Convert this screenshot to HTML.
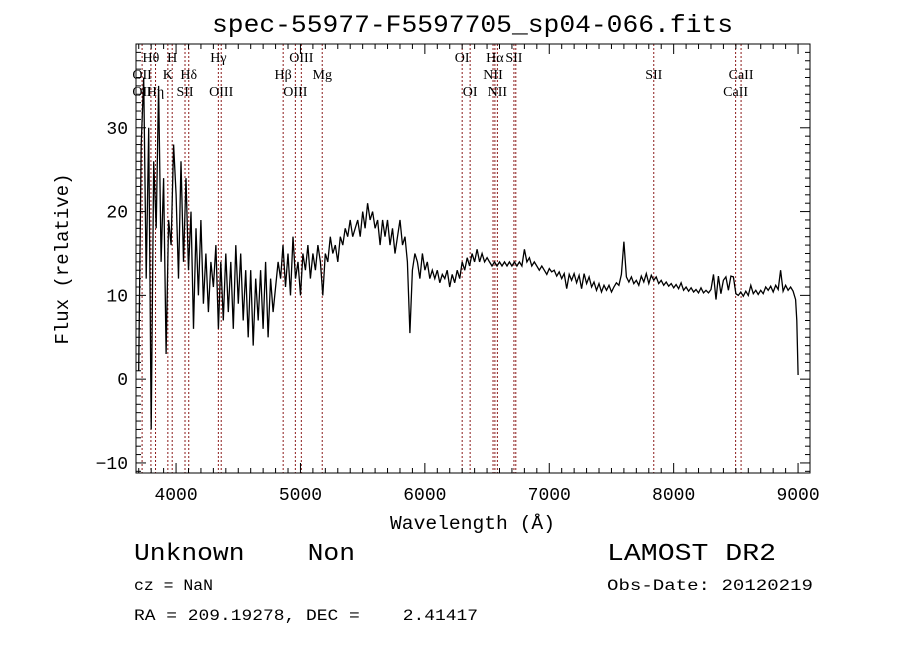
<!DOCTYPE html>
<html><head><meta charset="utf-8">
<style>
html,body{margin:0;padding:0;background:#fff;}
svg{display:block;font-family:"Liberation Mono",monospace;}
text{white-space:pre;}
</style></head>
<body>
<svg id="chart" width="900" height="649" viewBox="0 0 900 649" xmlns="http://www.w3.org/2000/svg" xml:space="preserve">
<rect x="0" y="0" width="900" height="649" fill="#fff"/>
<text x="212" y="32" font-size="25" textLength="521" lengthAdjust="spacingAndGlyphs">spec-55977-F5597705_sp04-066.fits</text>
<g id="lines"></g>
<g id="spec"></g>
<g id="axes"></g>
<text x="390" y="529" font-size="19" textLength="165" lengthAdjust="spacingAndGlyphs">Wavelength (Å)</text>
<text transform="translate(68,259) rotate(-90)" font-size="19" text-anchor="middle">Flux (relative)</text>
<text x="134" y="560" font-size="24" textLength="221" lengthAdjust="spacingAndGlyphs">Unknown    Non</text>
<text x="134" y="590" font-size="16" textLength="79" lengthAdjust="spacingAndGlyphs">cz = NaN</text>
<text x="134" y="620" font-size="16" textLength="344" lengthAdjust="spacingAndGlyphs">RA = 209.19278, DEC =    2.41417</text>
<text x="607" y="560" font-size="24" textLength="169" lengthAdjust="spacingAndGlyphs">LAMOST DR2</text>
<text x="607" y="590" font-size="16" textLength="206" lengthAdjust="spacingAndGlyphs">Obs-Date: 20120219</text>
</svg>
<script>
const wavelengths = [];
for (let w = 3700; w <= 8980; w += 20) wavelengths.push(w);
const fluxValues = [1,28,36,12,30,-6,26,18,35,14,24,3,19,16,28,22,12,26,14,24,13,20,6,18,10,19,9,15,8,14,11,16,6,14,7,15,8,14,6,16,9,15,7,13,5,13,4,12,7,13,6,14,5,12,8,11,14,12,16,11,15,10,17,12,14,10,15,13,16,12,15,13,16,14,10,15,14,17,15,16,14,17,16,18,17,19,17,18,19,17,20,18,21,19,20,18,19,16,19,17,19,16,18,15,17,19,16,17,14,5.5,13,15,14,12,15,13,14,12,13,12,13,11.5,12.5,12,13,11,12.5,11.5,13,12,14,13,14.5,13.5,15,14,15.5,14,15,14,14.5,14,13.5,14,13.5,14,13.5,14,13.5,14,13.5,14,13.5,14,13.5,15.5,14,14.5,13.5,14,13.5,13,13.5,13,12.5,13.2,12.8,13,12.3,12.8,12,12.6,10.8,12.5,11.8,12.6,11.5,12.4,10.8,12.6,11.4,12.2,11,11.6,10.6,11.4,10.4,11.2,10.6,11.2,10.4,11,11.5,11.2,12.5,16.4,12.2,11.6,12.2,11.4,11.8,11.2,12.3,11.6,12.6,11.4,12.4,11.8,12.2,11.4,11.8,11.2,11.6,11.1,11.4,10.9,11.3,10.8,11.5,10.6,11,10.5,10.9,10.4,10.7,10.3,10.9,10.3,10.6,10.3,10.7,12.5,9.5,12.3,10.2,11.8,12.2,10.6,12.3,12.2,10.2,10,10.4,9.9,10.5,10,11.2,10.2,10.6,10.1,10.6,10.2,11,10.6,11.1,10.4,11.2,10.7,13,10.5,11.2,10.6,11,10.5,9.5];
const tailWave = [8990, 9000];
const tailFlux = [7, 0.5];
const xTicks = [4000,5000,6000,7000,8000,9000];
const yTicks = [-10,0,10,20,30];
const lineWaves = [3727,3798,3835,3934,3969,4072,4102,4340,4363,4861,4959,5007,5175,6300,6364,6548,6563,6583,6716,6731,7840,8498,8542];
const labelTexts = ["Hθ","H","Hγ","OIII","OI","Hα","SII","OII","K","Hδ","Hβ","Mg","NII","SII","CaII","OII","Hη","SII","OIII","OIII","OI","NII","CaII"];
const labelWaves = [3798,3969,4340,5007,6300,6563,6716,3727,3934,4102,4861,5175,6548,7840,8542,3727,3835,4072,4363,4959,6364,6583,8498];
const labelRows = [0,0,0,0,0,0,0,1,1,1,1,1,1,1,1,2,2,2,2,2,2,2,2];

const L=136,R=810,T=44,B=473;
const xMin=3678,xMax=9096,yMin=-11.2,yMax=40;
const X=w=>L+(w-xMin)/(xMax-xMin)*(R-L);
const Y=f=>B-(f-yMin)/(yMax-yMin)*(B-T);
const NS="http://www.w3.org/2000/svg";
function mk(tag,parent,attrs){const e=document.createElementNS(NS,tag);for(const k in attrs)e.setAttribute(k,attrs[k]);parent.appendChild(e);return e;}

const lg=document.getElementById('lines');
lineWaves.forEach(w=>{
  const l=mk('line',lg,{x1:X(w),x2:X(w),y1:T,y2:B,stroke:'#8b1a1a','stroke-width':1,'stroke-dasharray':'2,2'});
  
  
});
labelTexts.forEach((t,i)=>{
  const e=mk('text',lg,{x:X(labelWaves[i]),y:62+labelRows[i]*17,'font-size':14,'text-anchor':'middle','font-family':'"Liberation Serif",serif'});
  e.textContent=t;
  
  
});

const sg=document.getElementById('spec');
const allW=wavelengths.concat(tailWave), allF=fluxValues.concat(tailFlux);
let pts=[];
for(let i=0;i<allW.length&&i<allF.length;i++)pts.push(X(allW[i]).toFixed(1)+','+Y(allF[i]).toFixed(1));
const pl=mk('polyline',sg,{points:pts.join(' '),fill:'none',stroke:'#000','stroke-width':1.3});



const ag=document.getElementById('axes');
const fr=mk('rect',ag,{x:L,y:T,width:R-L,height:B-T,fill:'none',stroke:'#000','stroke-width':1});


for(let w=3700;w<=9096;w+=100){
  const major=w%1000===0,len=major?10:5;
  mk('line',ag,{x1:X(w),x2:X(w),y1:B,y2:B-len,stroke:'#000'});
  mk('line',ag,{x1:X(w),x2:X(w),y1:T,y2:T+len,stroke:'#000'});
}
for(let f=-11;f<=40;f+=1){
  const major=f%10===0,len=major?10:5;
  mk('line',ag,{x1:L,x2:L+len,y1:Y(f),y2:Y(f),stroke:'#000'});
  mk('line',ag,{x1:R,x2:R-len,y1:Y(f),y2:Y(f),stroke:'#000'});
}
xTicks.forEach(w=>{
  const t=mk('text',ag,{x:X(w),y:B+27,'font-size':18,'text-anchor':'middle'});
  t.textContent=w;
  
  
});
yTicks.forEach(f=>{
  const t=mk('text',ag,{x:L-8,y:Y(f)+6,'font-size':18,'text-anchor':'end'});
  t.textContent=f===-10?'−10':f;
  
  
});
</script>
</body></html>
